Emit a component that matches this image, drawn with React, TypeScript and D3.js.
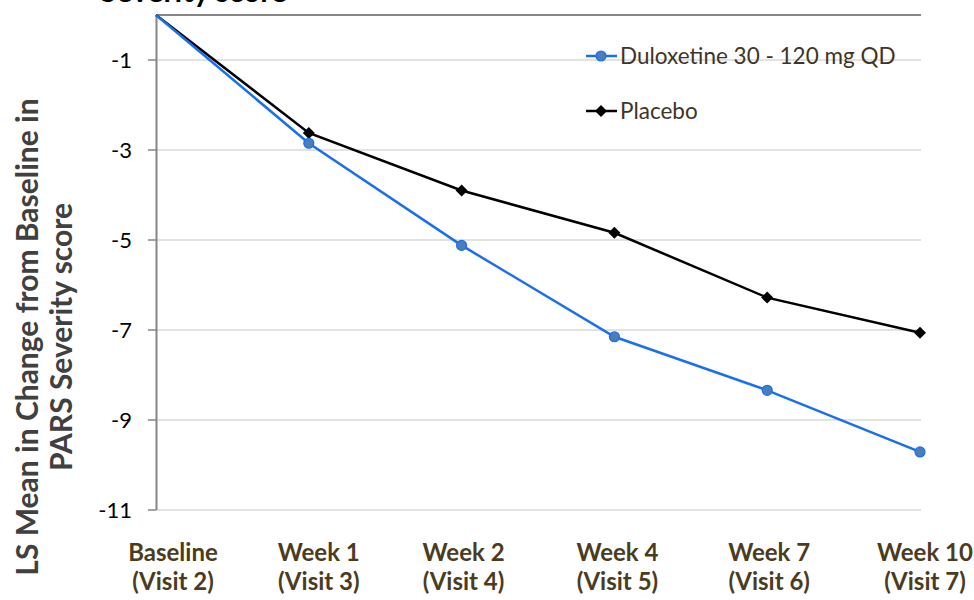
import React from "react";
import * as d3 from "d3";

const categories = ["Baseline", "Week 1", "Week 2", "Week 4", "Week 7", "Week 10"];
const visits = ["(Visit 2)", "(Visit 3)", "(Visit 4)", "(Visit 5)", "(Visit 6)", "(Visit 7)"];
const duloxetine = [0, -2.85, -5.12, -7.15, -8.34, -9.71];
const placebo = [0, -2.62, -3.9, -4.84, -6.28, -7.06];
const yTicks = [-1, -3, -5, -7, -9, -11];
const seriesNames = ["Duloxetine 30 - 120 mg QD", "Placebo"];

const W = 974;
const H = 600;
const FONT = "Lato, 'Open Sans', sans-serif";
const labelDx = [17, 10, 2, 3, 2, 5];

export default function App() {
  const x = d3.scalePoint<string>().domain(categories).range([156, 920]);
  const y = d3.scaleLinear().domain([-11, 0]).range([510, 15]);
  const line = d3
    .line<number>()
    .x((_, i) => x(categories[i]) as number)
    .y((d) => y(d));
  const diamond = d3.symbol().type(d3.symbolSquare).size(72)() as string;
  const blue = "#1a6ef0";
  const markerFill = "#4a7ebb";
  const xr = 921;

  return (
    <svg
      width={W}
      height={H}
      style={{ position: "absolute", left: 0, top: 0, background: "#fff" }}
      fontFamily={FONT}
    >
      {/* cut-off title (as in the reference) */}
      <text x={100} y={2} fontSize={30} fontWeight="bold" fill="#000">
        Severity score
      </text>

      {/* gridlines */}
      {yTicks.map((t) => (
        <line key={t} x1={156} x2={xr} y1={y(t)} y2={y(t)} stroke="#d9d9d9" strokeWidth={1.5} />
      ))}
      {/* category axis at 0 (top) */}
      <line x1={156} x2={xr} y1={y(0)} y2={y(0)} stroke="#868686" strokeWidth={2} />
      {/* value axis */}
      <line x1={156.5} x2={156.5} y1={y(0)} y2={y(-11)} stroke="#868686" strokeWidth={2} />
      {yTicks.map((t) => (
        <g key={"t" + t}>
          <line x1={148} x2={156} y1={y(t)} y2={y(t)} stroke="#868686" strokeWidth={1.5} />
          <text x={132} y={y(t)} dy="0.36em" textAnchor="end" fontSize={22} fill="#000">
            {t}
          </text>
        </g>
      ))}

      {/* category labels */}
      {categories.map((c, i) => (
        <g key={c} fontWeight="bold" fontSize={24} fill="#4b3c1e" textAnchor="middle">
          <text x={(x(c) as number) + labelDx[i]} y={561}>
            {c}
          </text>
          <text x={(x(c) as number) + labelDx[i]} y={590}>
            {visits[i]}
          </text>
        </g>
      ))}

      {/* y title */}
      <g transform="translate(0,337) rotate(-90)" fontWeight="bold" fontSize={30} fill="#404040" textAnchor="middle">
        <text x={0} y={38}>LS Mean  in Change from Baseline in</text>
        <text x={0} y={72}>PARS Severity  score</text>
      </g>

      {/* series */}
      <path d={line(placebo) as string} fill="none" stroke="#000" strokeWidth={2.5} />
      <path d={line(duloxetine) as string} fill="none" stroke={blue} strokeWidth={2.5} />
      {placebo.map((v, i) =>
        i === 0 ? null : (
          <path
            key={"p" + i}
            d={diamond}
            transform={`translate(${x(categories[i])},${y(v)}) rotate(45)`}
            fill="#000"
          />
        )
      )}
      {duloxetine.map((v, i) =>
        i === 0 ? null : (
          <circle key={"d" + i} cx={x(categories[i])} cy={y(v)} r={5} fill={markerFill} stroke={blue} strokeWidth={1.2} />
        )
      )}

      {/* legend */}
      <g>
        <line x1={586} x2={617} y1={56} y2={56} stroke={blue} strokeWidth={2.5} />
        <circle cx={601} cy={56} r={5} fill={markerFill} stroke={blue} strokeWidth={1.2} />
        <text x={620} y={56} dy="0.36em" fontSize={22.5} fill="#3f3526">
          {seriesNames[0]}
        </text>
        <line x1={586} x2={617} y1={111} y2={111} stroke="#000" strokeWidth={2.5} />
        <path d={diamond} transform="translate(601,111) rotate(45)" fill="#000" />
        <text x={620} y={111} dy="0.36em" fontSize={22.5} fill="#3f3526">
          {seriesNames[1]}
        </text>
      </g>
    </svg>
  );
}
